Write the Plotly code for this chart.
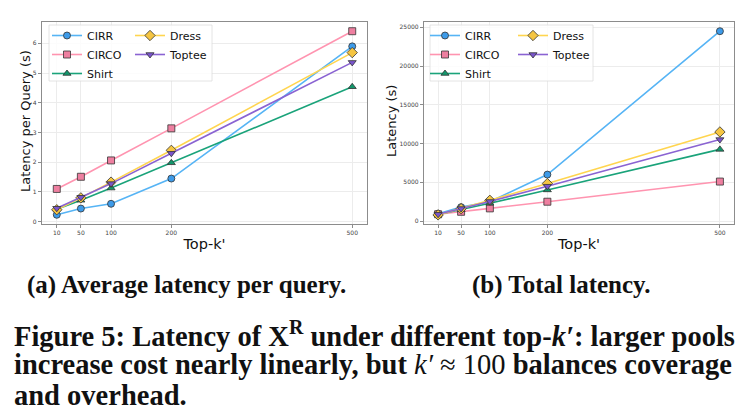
import plotly.graph_objects as go

topk = [10, 50, 100, 200, 500]
series = ["CIRR", "CIRCO", "Shirt", "Dress", "Toptee"]

per_query = {
    "CIRR":   [0.23, 0.44, 0.60, 1.45, 5.90],
    "CIRCO":  [1.10, 1.51, 2.06, 3.14, 6.41],
    "Shirt":  [0.42, 0.72, 1.13, 1.98, 4.54],
    "Dress":  [0.40, 0.80, 1.33, 2.40, 5.69],
    "Toptee": [0.45, 0.82, 1.28, 2.30, 5.36],
}
total = {
    "CIRR":   [950, 1800, 2500, 6000, 24500],
    "CIRCO":  [880, 1200, 1640, 2500, 5100],
    "Shirt":  [850, 1460, 2300, 4020, 9250],
    "Dress":  [800, 1600, 2680, 4840, 11500],
    "Toptee": [880, 1620, 2530, 4500, 10520],
}
yticks_a = [0, 1, 2, 3, 4, 5, 6]
yticks_b = [0, 5000, 10000, 15000, 20000, 25000]

line_colors = {"CIRR": "#56B4F5", "CIRCO": "#FF94B0", "Shirt": "#1AA37A",
               "Dress": "#FFD54F", "Toptee": "#8A63D2"}
marker_colors = {"CIRR": "#3D9BE9", "CIRCO": "#EE7FA0", "Shirt": "#12966B",
                 "Dress": "#F5C542", "Toptee": "#7A55CC"}
symbols = {"CIRR": "circle", "CIRCO": "square", "Shirt": "triangle-up",
           "Dress": "diamond", "Toptee": "triangle-down"}
msize = {"CIRR": 7, "CIRCO": 7, "Shirt": 7, "Dress": 8, "Toptee": 7}

W, H = 754, 418
fig = go.Figure()

legend_map_a = {"CIRR": "legend", "CIRCO": "legend", "Shirt": "legend",
                "Dress": "legend2", "Toptee": "legend2"}
legend_map_b = {"CIRR": "legend3", "CIRCO": "legend3", "Shirt": "legend3",
                "Dress": "legend4", "Toptee": "legend4"}

for s in series:
    fig.add_trace(go.Scatter(
        x=topk, y=per_query[s], name=s, mode="lines+markers",
        line=dict(color=line_colors[s], width=1.6),
        marker=dict(symbol=symbols[s], size=msize[s], color=marker_colors[s],
                    line=dict(color="#333333", width=0.8)),
        xaxis="x", yaxis="y", legend=legend_map_a[s]))
for s in series:
    fig.add_trace(go.Scatter(
        x=topk, y=total[s], name=s, mode="lines+markers",
        line=dict(color=line_colors[s], width=1.6),
        marker=dict(symbol=symbols[s], size=msize[s], color=marker_colors[s],
                    line=dict(color="#333333", width=0.8)),
        xaxis="x2", yaxis="y2", legend=legend_map_b[s]))

def px_x(p):
    return p / W

def px_y(p):
    return 1 - p / H

y_dom = [px_y(224), px_y(22)]
axis_common = dict(
    showline=True, linecolor="#8c8c8c", linewidth=1.3, mirror=True,
    showgrid=True, gridcolor="#ececec", gridwidth=0.8,
    ticks="outside", ticklen=3, tickcolor="#8c8c8c", tickwidth=0.8,
    tickfont=dict(family="DejaVu Sans", size=6, color="#444444"),
    zeroline=False,
)
title_font = dict(family="DejaVu Sans", size=13, color="#111")

fig.update_layout(
    width=W, height=H,
    margin=dict(l=0, r=0, t=0, b=0),
    paper_bgcolor="white", plot_bgcolor="white",
    xaxis=dict(domain=[px_x(42), px_x(367)], range=[-14.5, 524.5],
               tickvals=topk, ticktext=[str(v) for v in topk],
               title=dict(text="Top-k'", font=dict(family="DejaVu Sans", size=14.5, color="#111"), standoff=3),
               anchor="y", **axis_common),
    yaxis=dict(domain=y_dom, range=[-0.08, 6.72], tickvals=yticks_a,
               ticktext=[str(v) for v in yticks_a],
               anchor="x", **axis_common),
    xaxis2=dict(domain=[px_x(424), px_x(734)], range=[-14.5, 524.5],
                tickvals=topk, ticktext=[str(v) for v in topk],
                title=dict(text="Top-k'", font=dict(family="DejaVu Sans", size=14.5, color="#111"), standoff=3),
                anchor="y2", **axis_common),
    yaxis2=dict(domain=y_dom, range=[-375, 25685],
                tickvals=yticks_b, ticktext=[str(v) for v in yticks_b],
                anchor="x2", **axis_common),
    showlegend=True,
)

# y-axis titles placed precisely
for (xp, txt) in [(25, "Latency per Query (s)"), (391, "Latency (s)")]:
    fig.add_annotation(text=txt, xref="paper", yref="paper", x=px_x(xp), y=px_y(121),
                       xanchor="center", yanchor="middle", textangle=-90,
                       showarrow=False, font=title_font)

leg_common = dict(bgcolor="rgba(0,0,0,0)", borderwidth=0,
                  font=dict(family="DejaVu Sans", size=11, color="#111"),
                  yanchor="top", xanchor="left", tracegroupgap=0,
                  itemwidth=30, orientation="v")
fig.update_layout(
    legend=dict(x=px_x(47), y=px_y(21), **leg_common),
    legend2=dict(x=px_x(130), y=px_y(21), **leg_common),
    legend3=dict(x=px_x(425), y=px_y(21), **leg_common),
    legend4=dict(x=px_x(513), y=px_y(21), **leg_common),
)

# legend frames
for (x0, x1) in [(49, 212), (430, 593)]:
    fig.add_shape(type="rect", xref="paper", yref="paper",
                  x0=px_x(x0), x1=px_x(x1), y0=px_y(81), y1=px_y(25),
                  line=dict(color="#dddddd", width=0.8),
                  fillcolor="rgba(255,255,255,0.85)", layer="above")

serif = "Liberation Serif"
fig.add_annotation(text="<b>(a) Average latency per query.</b>", xref="paper", yref="paper",
                   x=px_x(186), y=px_y(285), xanchor="center", yanchor="middle",
                   showarrow=False, font=dict(family=serif, size=25, color="#111"))
fig.add_annotation(text="<b>(b) Total latency.</b>", xref="paper", yref="paper",
                   x=px_x(561), y=px_y(285), xanchor="center", yanchor="middle",
                   showarrow=False, font=dict(family=serif, size=25, color="#111"))
caption_lines = [
    "<b>Figure 5: Latency of X<sup>R</sup> under different top-<i>k′</i>: larger pools</b>",
    "<b>increase cost nearly linearly, but </b><i>k′</i> ≈ 100<b> balances coverage</b>",
    "<b>and overhead.</b>",
]
for i, t in enumerate(caption_lines):
    fig.add_annotation(text=t, xref="paper", yref="paper",
                       x=px_x(12), y=px_y(334 + 30.5 * i), xanchor="left", yanchor="middle",
                       showarrow=False, font=dict(family=serif, size=28.5, color="#111"))

fig.write_html("out.html")
